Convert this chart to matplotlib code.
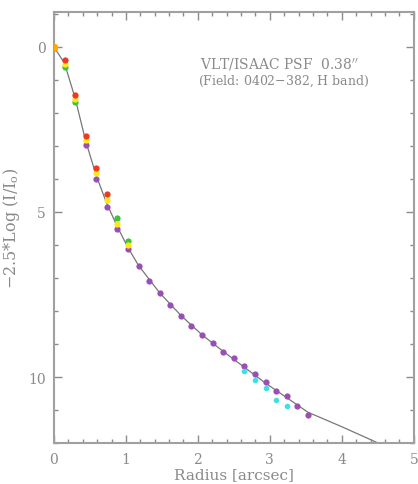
import matplotlib
matplotlib.use('Agg')
import matplotlib.pyplot as plt
from matplotlib.ticker import MultipleLocator

# radial bins (ISAAC pixels of ~0.147")
radius = [0.0, 0.147, 0.294, 0.441, 0.588, 0.735, 0.882, 1.029, 1.176, 1.323,
          1.470, 1.617, 1.764, 1.911, 2.058, 2.205, 2.352, 2.499, 2.646, 2.793,
          2.940, 3.087, 3.234, 3.381, 3.528]

red = [0.03, 0.41, 1.47, 2.69, 3.68, 4.45]
yellow = [0.03, 0.52, 1.58, 2.82, 3.83, 4.64, 5.36, 6.00]
green_r = [0.147, 0.294, 0.882, 1.029]
green = [0.62, 1.66, 5.18, 5.87]
purple = [2.97, 4.00, 4.84, 5.52, 6.12, 6.63, 7.08, 7.46, 7.81, 8.14, 8.46,
          8.73, 8.98, 9.23, 9.43, 9.65, 9.90, 10.15, 10.41, 10.56, 10.88, 11.14]
cyan = [9.80, 10.08, 10.33, 10.68, 10.86]

# model profile
model_r = [0.0, 0.147, 0.294, 0.441, 0.588, 0.735, 0.882, 1.029, 1.176, 1.47,
           1.764, 2.058, 2.352, 2.646, 2.94, 3.234, 3.528, 4.0, 4.48]
model = [0.0, 0.5, 1.55, 2.85, 3.9, 4.75, 5.45, 6.08, 6.62, 7.45,
         8.13, 8.72, 9.22, 9.7, 10.18, 10.62, 11.06, 11.5, 11.97]

gray = '#8a8a8a'
plt.rcParams['font.family'] = ['DejaVu Serif']
plt.rcParams['mathtext.fontset'] = 'dejavuserif'

fig = plt.figure(figsize=(4.18, 4.85), dpi=100)
ax = fig.add_axes([0.129, 0.084, 0.861, 0.889])

ax.plot(model_r, model, color='#777777', lw=0.9, zorder=1)
ms = 4.5
ax.plot(radius[3:], purple, 'o', color='#9b4fb5', ms=ms, mec='none', zorder=2)
ax.plot(radius[18:23], cyan, 'o', color='#3fe0e0', ms=ms - 0.5, mec='none', zorder=2)
ax.plot(green_r, green, 'o', color='#3cc43c', ms=ms, mec='none', zorder=3)
ax.plot(radius[:8], yellow, 'o', color='#ffe81a', ms=ms, mec='none', zorder=3)
ax.plot(radius[:6], red, 'o', color='#ee3a1e', ms=ms, mec='none', zorder=4)
ax.plot([radius[0]], [0.0], 'o', color='#ffaa00', ms=ms + 1, mec='none', zorder=5)

ax.set_xlim(0, 5)
ax.set_ylim(12, -1.05)
ax.xaxis.set_major_locator(MultipleLocator(1))
ax.xaxis.set_minor_locator(MultipleLocator(0.2))
ax.yaxis.set_major_locator(MultipleLocator(5))
ax.yaxis.set_minor_locator(MultipleLocator(1))
ax.tick_params(which='both', direction='in', top=True, right=True,
               color=gray, labelcolor=gray, labelsize=10, pad=6)
ax.tick_params(which='major', length=6, width=1)
ax.tick_params(which='minor', length=3, width=1)
for s in ax.spines.values():
    s.set_color('#a0a0a0')
    s.set_linewidth(1.5)

ax.set_xlabel('Radius [arcsec]', color=gray, fontsize=11, va='center')
ax.xaxis.set_label_coords(0.5, -0.071)
ax.set_ylabel(r'$-$2.5*Log (I/I$_{\rm o}$)', color=gray, fontsize=11.5, labelpad=4)

ax.text(0.405, 0.88, r'VLT/ISAAC PSF  0.38$^{\prime\prime}$', transform=ax.transAxes,
        color=gray, fontsize=10, va='center')
ax.text(0.40, 0.843, '(Field: 0402$-$382, H band)', transform=ax.transAxes,
        color=gray, fontsize=9, va='center')

fig.savefig('out.png', dpi=100)
